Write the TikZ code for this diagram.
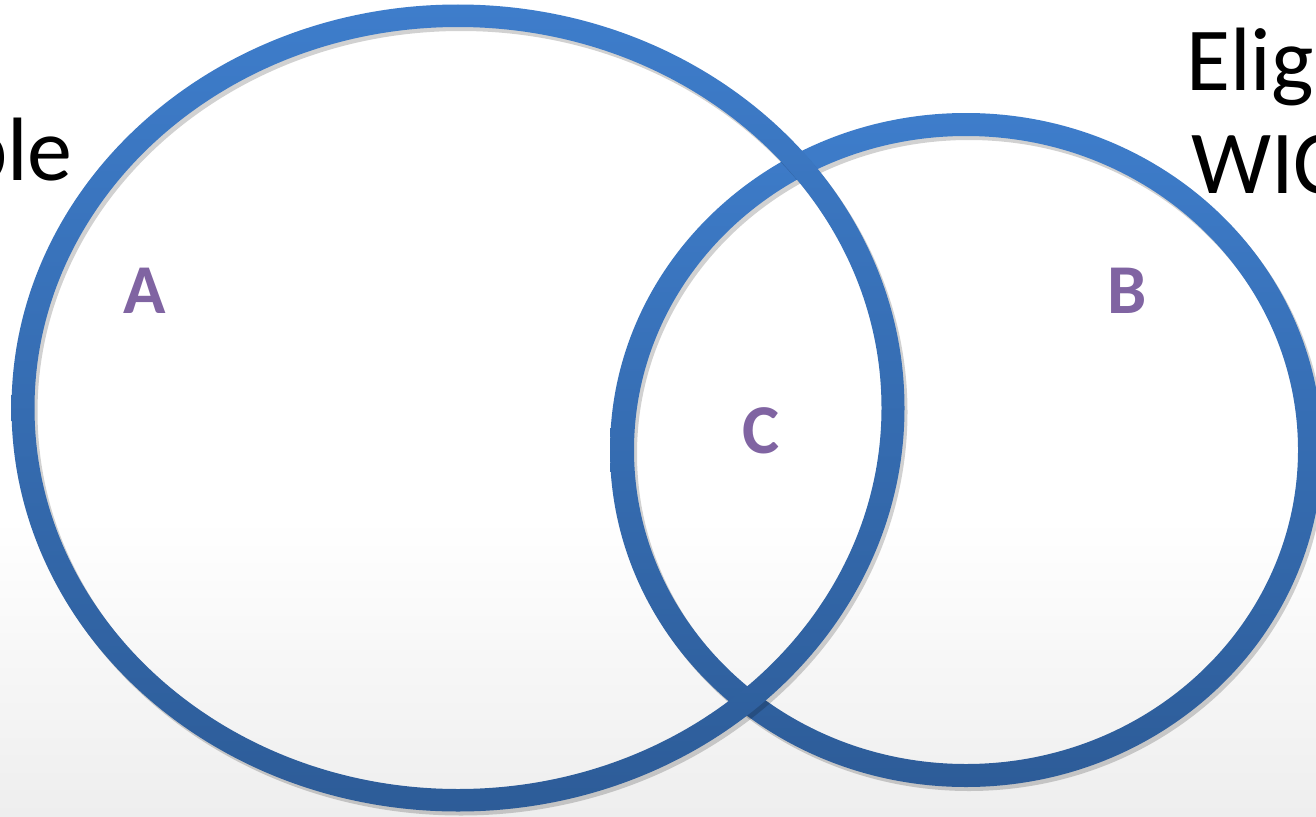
\documentclass[tikz,border=0pt]{standalone}
\usepackage{fontspec}
\setmainfont{Carlito}
\definecolor{ringtop}{HTML}{3E7DCB}
\definecolor{ringbot}{HTML}{2D5C98}
\definecolor{lblpurple}{HTML}{8064A2}
\definecolor{bgbot}{HTML}{EEEEEE}
\begin{document}
\begin{tikzpicture}[x=1pt,y=-1pt,
  ringfill/.style={top color=ringtop, bottom color=ringbot, even odd rule},
  ringshadow/.style={fill=black, opacity=0.18, even odd rule},
  lbl/.style={inner sep=0pt, text=lblpurple, font=\fontsize{70}{84}\selectfont\bfseries},
  bigtxt/.style={inner sep=0pt, text=black, font=\fontsize{90}{104}\selectfont}]
\useasboundingbox (0,0) rectangle (1316,816);
\clip (0,0) rectangle (1316,816);
\fill[white] (0,0) rectangle (1316,520);
\shade[top color=white, bottom color=bgbot] (0,519) rectangle (1316,816);
\coordinate (cA) at (458,408);
\coordinate (cB) at (966,450);
\coordinate (sA) at (461,412);
\coordinate (sB) at (969,454);
% ring B
\fill[ringshadow] (sB) ellipse [x radius=356, y radius=337] (sB) ellipse [x radius=332, y radius=314];
\shade[ringfill] (cB) ellipse [x radius=356, y radius=337] (cB) ellipse [x radius=332, y radius=314];
% ring A
\fill[ringshadow] (sA) ellipse [x radius=446.5, y radius=403.5] (sA) ellipse [x radius=423.5, y radius=381];
\shade[ringfill] (cA) ellipse [x radius=446.5, y radius=403.5] (cA) ellipse [x radius=423.5, y radius=381];
% labels
\node[lbl, anchor=base] (labA) at (145,313) {A};
\node[lbl, anchor=base] (labB) at (1127,313) {B};
\node[lbl, anchor=base] (labC) at (761,453) {C};
% cropped texts
\node[bigtxt, anchor=base east] (left) at (73,180) {ble};
\node[bigtxt, anchor=base west] (r1) at (1186,90) {Elig};
\node[bigtxt, anchor=base west] (r2) at (1191,193) {WIC};
\end{tikzpicture}
\end{document}
